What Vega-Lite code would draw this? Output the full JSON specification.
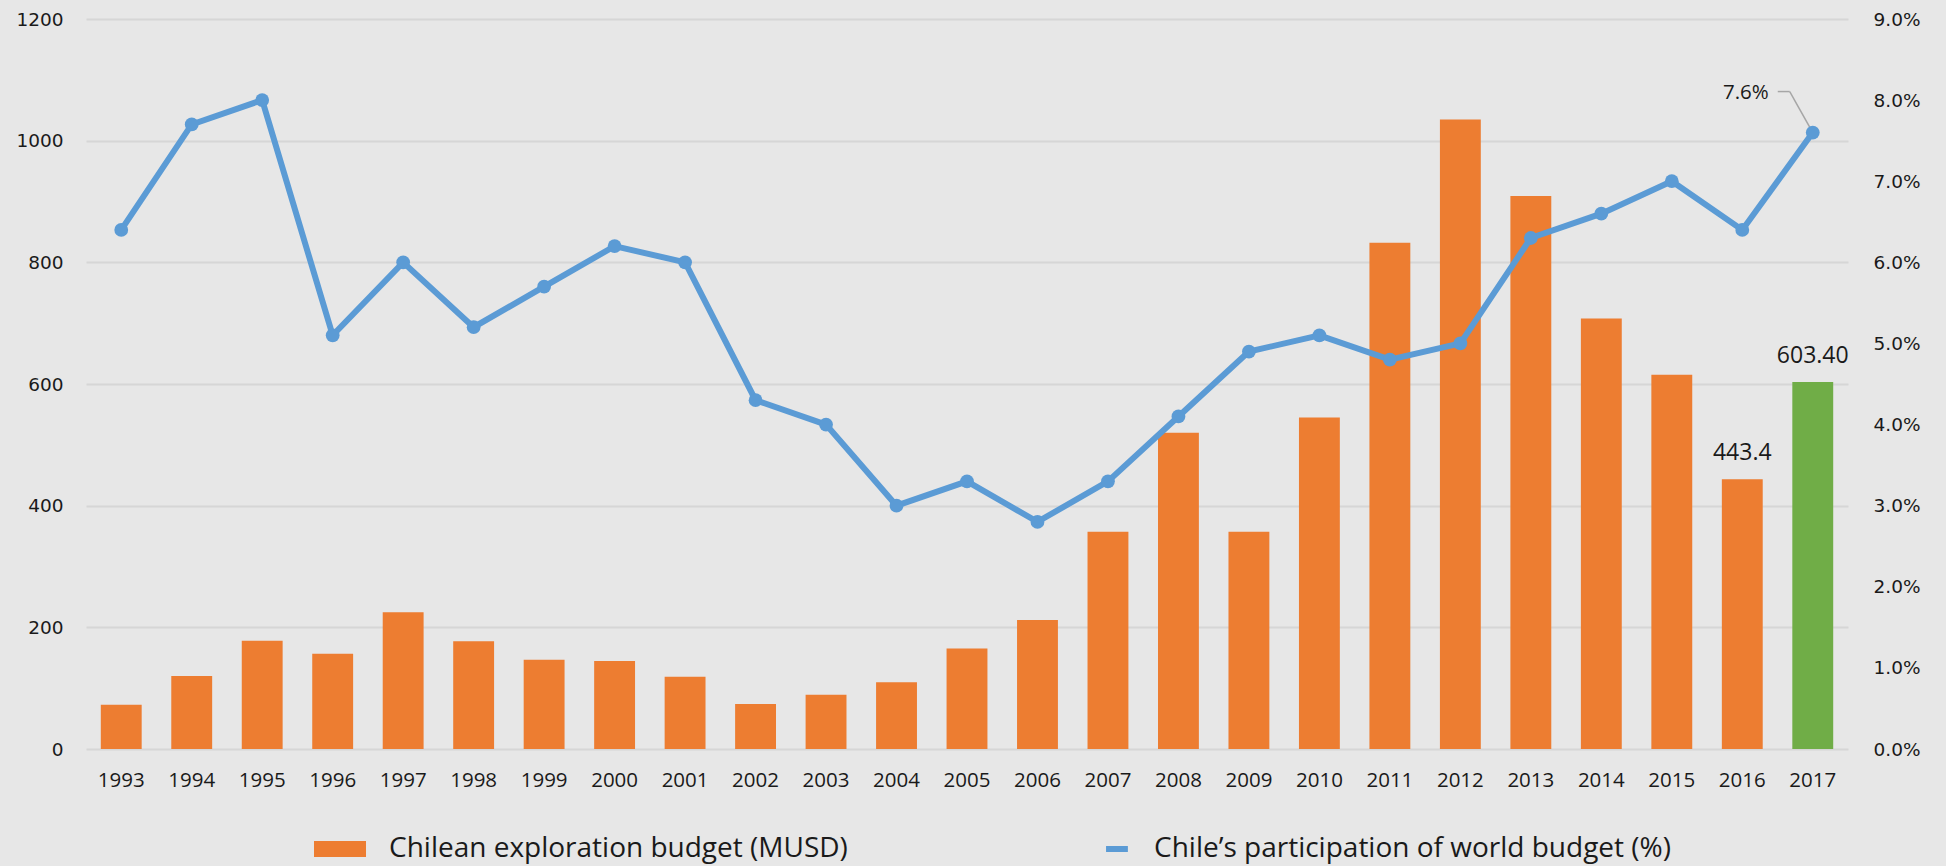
{
  "$schema": "https://vega.github.io/schema/vega-lite/v6.json",
  "width": 1762,
  "height": 730,
  "autosize": "none",
  "padding": {"left": 86, "top": 19, "right": 98, "bottom": 117},
  "background": "#E7E7E7",
  "config": {"view": {"stroke": null}},
  "data": {
    "values": [
      {"year": 1993, "budget": 72.9, "pct": 0.064, "label": null},
      {"year": 1994, "budget": 120, "pct": 0.077, "label": null},
      {"year": 1995, "budget": 178, "pct": 0.080, "label": null},
      {"year": 1996, "budget": 156.6, "pct": 0.051, "label": null},
      {"year": 1997, "budget": 224.6, "pct": 0.060, "label": null},
      {"year": 1998, "budget": 177, "pct": 0.052, "label": null},
      {"year": 1999, "budget": 146.8, "pct": 0.057, "label": null},
      {"year": 2000, "budget": 144.6, "pct": 0.062, "label": null},
      {"year": 2001, "budget": 118.8, "pct": 0.060, "label": null},
      {"year": 2002, "budget": 74, "pct": 0.043, "label": null},
      {"year": 2003, "budget": 89.3, "pct": 0.040, "label": null},
      {"year": 2004, "budget": 109.6, "pct": 0.030, "label": null},
      {"year": 2005, "budget": 165.4, "pct": 0.033, "label": null},
      {"year": 2006, "budget": 212, "pct": 0.028, "label": null},
      {"year": 2007, "budget": 357, "pct": 0.033, "label": null},
      {"year": 2008, "budget": 520, "pct": 0.041, "label": null},
      {"year": 2009, "budget": 357, "pct": 0.049, "label": null},
      {"year": 2010, "budget": 545, "pct": 0.051, "label": null},
      {"year": 2011, "budget": 832, "pct": 0.048, "label": null},
      {"year": 2012, "budget": 1035, "pct": 0.050, "label": null},
      {"year": 2013, "budget": 909, "pct": 0.063, "label": null},
      {"year": 2014, "budget": 707.5, "pct": 0.066, "label": null},
      {"year": 2015, "budget": 615.4, "pct": 0.070, "label": null},
      {"year": 2016, "budget": 443.4, "pct": 0.064, "label": "443.4"},
      {"year": 2017, "budget": 603.4, "pct": 0.076, "label": "603.40"}
    ]
  },
  "encoding": {
    "x": {
      "field": "year",
      "type": "ordinal",
      "scale": {"paddingInner": 0.42, "paddingOuter": 0.21},
      "axis": {
        "title": null,
        "labelAngle": 0,
        "labelFont": "Open Sans",
        "labelFontSize": 20.5,
        "labelColor": "#1a1a1a",
        "ticks": false,
        "domain": false,
        "grid": false,
        "labelPadding": 21
      }
    }
  },
  "layer": [
    {
      "encoding": {
        "y": {
          "field": "budget",
          "type": "quantitative",
          "scale": {"domain": [0, 1200], "nice": false},
          "axis": {
            "title": null,
            "values": [0, 200, 400, 600, 800, 1000, 1200],
            "format": "d",
            "labelFont": "DejaVu Sans",
            "labelFontSize": 18.5,
            "labelColor": "#1a1a1a",
            "ticks": false,
            "domain": false,
            "grid": true,
            "gridColor": "#D6D6D6",
            "gridWidth": 2,
            "labelPadding": 23
          }
        }
      },
      "layer": [
        {
          "mark": {"type": "bar"},
          "encoding": {
            "color": {
              "condition": {"test": "datum.year === 2017", "value": "#70AD47"},
              "datum": "Chilean exploration budget (MUSD)",
              "type": "nominal",
              "scale": {
                "domain": ["Chilean exploration budget (MUSD)", "Chile’s participation of world budget (%)"],
                "range": ["#ED7D31", "#5B9BD5"]
              },
              "legend": {
                "title": null,
                "orient": "none",
                "legendX": 228,
                "legendY": 804,
                "direction": "horizontal",
                "padding": 0,
                "labelFont": "Open Sans",
                "labelFontSize": 28,
                "labelColor": "#1a1a1a",
                "labelLimit": 1000,
                "labelOffset": 23,
                "columnPadding": 231,
                "symbolSize": 2704,
                "encode": {
                  "symbols": {
                    "update": {
                      "shape": {"signal": "datum.value === 'Chilean exploration budget (MUSD)' ? 'M-1,-0.31L1,-0.31L1,0.31L-1,0.31Z' : 'M0.04,-0.115L0.88,-0.115L0.88,0.115L0.04,0.115Z'"},
                      "fill": {"signal": "datum.value === 'Chilean exploration budget (MUSD)' ? '#ED7D31' : '#5B9BD5'"},
                      "fillOpacity": {"value": 1},
                      "opacity": {"value": 1},
                      "strokeWidth": {"value": 0}
                    }
                  }
                }
              }
            }
          }
        },
        {
          "transform": [{"filter": "datum.label != null"}],
          "mark": {"type": "text", "font": "Open Sans", "fontSize": 23, "color": "#1a1a1a", "baseline": "alphabetic", "dy": -19},
          "encoding": {
            "text": {"field": "label"}
          }
        }
      ]
    },
    {
      "encoding": {
        "y": {
          "field": "pct",
          "type": "quantitative",
          "scale": {"domain": [0, 0.09], "nice": false},
          "axis": {
            "orient": "right",
            "title": null,
            "values": [0, 0.01, 0.02, 0.03, 0.04, 0.05, 0.06, 0.07, 0.08, 0.09],
            "format": ".1%",
            "labelFont": "DejaVu Sans",
            "labelFontSize": 18.5,
            "labelColor": "#1a1a1a",
            "ticks": false,
            "domain": false,
            "grid": false,
            "labelPadding": 25
          }
        }
      },
      "layer": [
        {
          "transform": [{"filter": "datum.year === 2017"}],
          "mark": {"type": "rule", "color": "#A6A6A6", "strokeWidth": 1.5, "x2Offset": -23, "y2Offset": -41},
          "encoding": {
            "x2": {"field": "year"},
            "y2": {"field": "pct"}
          }
        },
        {
          "transform": [{"filter": "datum.year === 2017"}],
          "mark": {"type": "rule", "color": "#A6A6A6", "strokeWidth": 1.5, "xOffset": -35, "x2Offset": -23, "yOffset": -41},
          "encoding": {
            "x2": {"field": "year"}
          }
        },
        {
          "mark": {"type": "line", "strokeWidth": 6},
          "encoding": {
            "color": {"datum": "Chile’s participation of world budget (%)", "type": "nominal"}
          }
        },
        {
          "mark": {"type": "point", "filled": true, "size": 190, "opacity": 1, "color": "#5B9BD5"},
          "encoding": {}
        },
        {
          "transform": [{"filter": "datum.year === 2017"}],
          "mark": {"type": "text", "font": "Open Sans", "fontSize": 20.5, "color": "#1a1a1a", "align": "right", "baseline": "middle", "dx": -44, "dy": -40},
          "encoding": {
            "text": {"field": "pct", "type": "quantitative", "format": ".1%"}
          }
        }
      ]
    }
  ],
  "resolve": {"scale": {"y": "independent"}}
}
